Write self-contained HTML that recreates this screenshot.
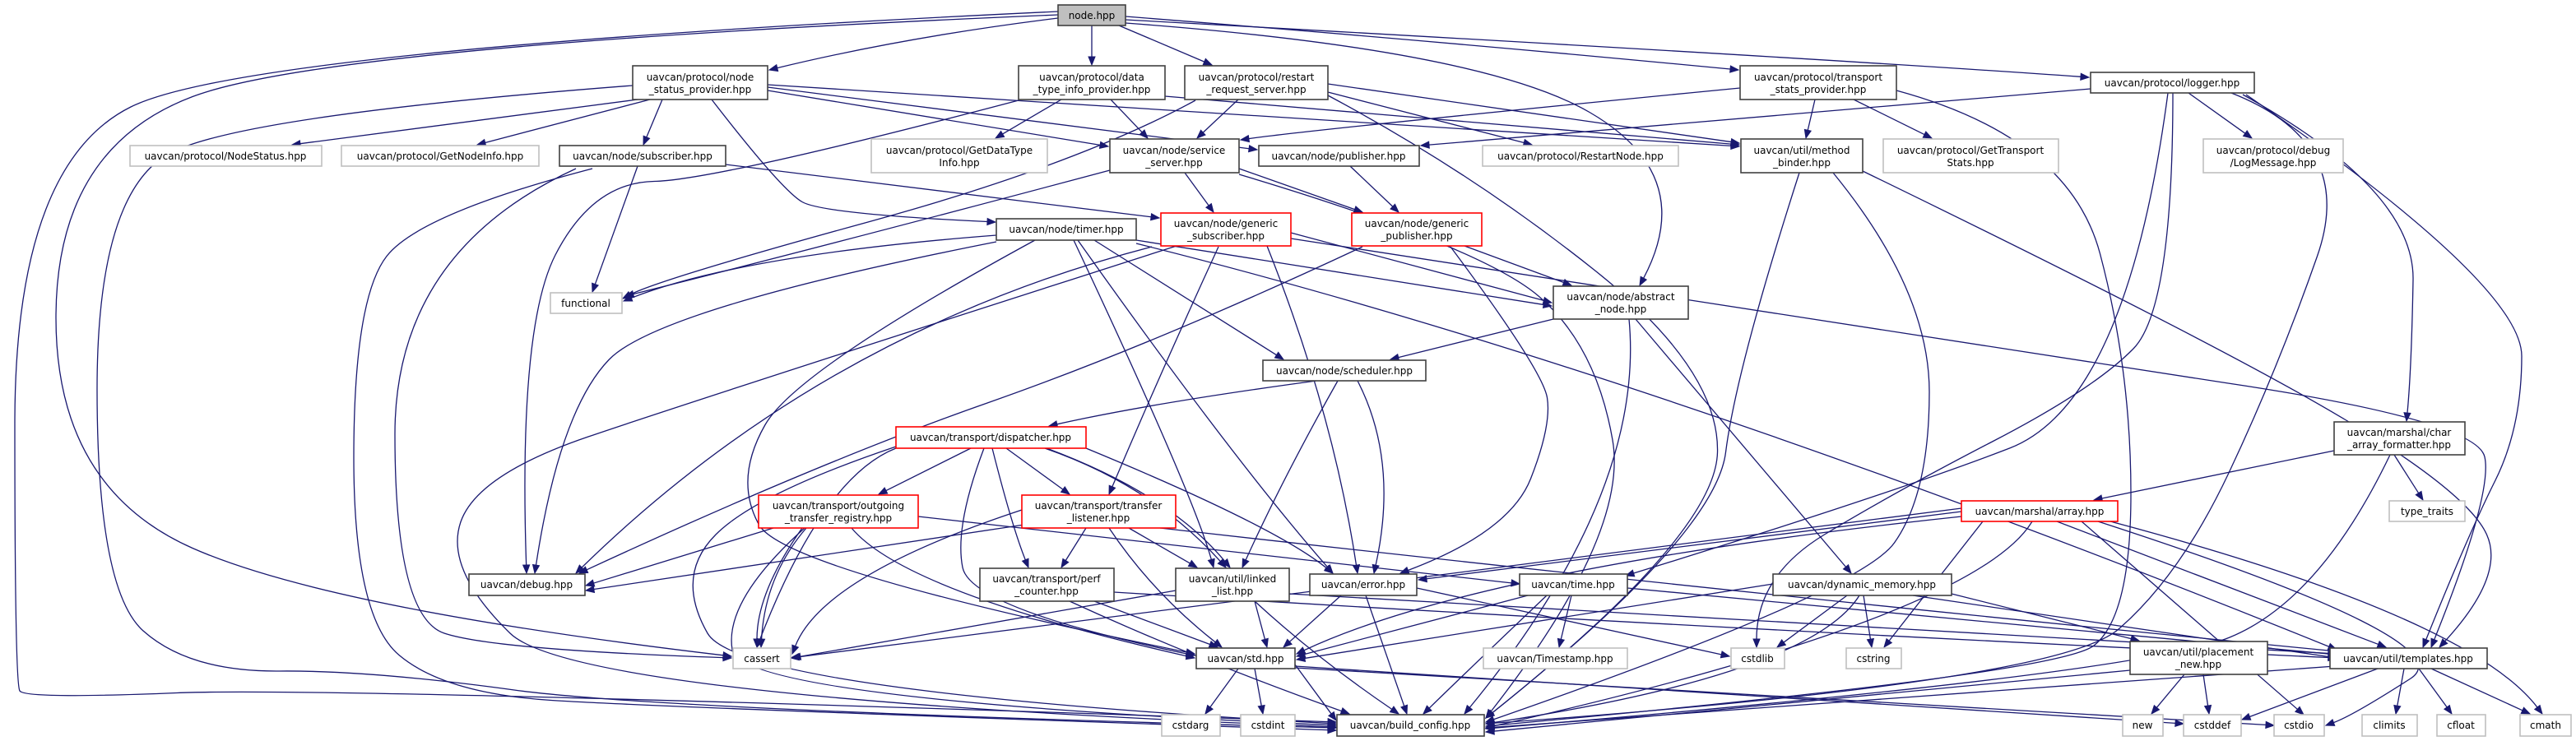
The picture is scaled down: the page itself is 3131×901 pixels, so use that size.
<!DOCTYPE html>
<html><head><meta charset="utf-8">
<style>
html,body{margin:0;padding:0;background:#fff;}
svg{display:block;}
text{font-family:"DejaVu Sans","Liberation Sans",sans-serif;font-size:12px;fill:#000;}
</style></head>
<body>
<svg id="g" xmlns="http://www.w3.org/2000/svg" width="3131" height="901" viewBox="0 0 3131 901">
<rect width="3131" height="901" fill="#fff"/>
<g id="edges" fill="none" stroke="#191970" stroke-width="1.3"></g>
<g id="heads" fill="#191970" stroke="#191970"></g>
<g id="nodes" stroke-width="1.6">
<rect x="1286" y="6" width="82" height="25" fill="#bfbfbf" stroke="#404040"/>
<rect x="769" y="80" width="164" height="41" fill="#fff" stroke="#404040"/>
<rect x="1238" y="80" width="178" height="41" fill="#fff" stroke="#404040"/>
<rect x="1440" y="80" width="174" height="41" fill="#fff" stroke="#404040"/>
<rect x="2115" y="80" width="190" height="41" fill="#fff" stroke="#404040"/>
<rect x="2541" y="88" width="199" height="25" fill="#fff" stroke="#404040"/>
<rect x="680" y="177" width="202" height="25" fill="#fff" stroke="#404040"/>
<rect x="1349" y="169" width="157" height="41" fill="#fff" stroke="#404040"/>
<rect x="1530" y="177" width="195" height="25" fill="#fff" stroke="#404040"/>
<rect x="2116" y="169" width="148" height="41" fill="#fff" stroke="#404040"/>
<rect x="1211" y="266" width="170" height="26" fill="#fff" stroke="#404040"/>
<rect x="1888" y="348" width="164" height="40" fill="#fff" stroke="#404040"/>
<rect x="1535" y="438" width="198" height="25" fill="#fff" stroke="#404040"/>
<rect x="2837" y="513" width="159" height="40" fill="#fff" stroke="#404040"/>
<rect x="570" y="698" width="141" height="26" fill="#fff" stroke="#404040"/>
<rect x="1191" y="691" width="163" height="40" fill="#fff" stroke="#404040"/>
<rect x="1429" y="691" width="138" height="40" fill="#fff" stroke="#404040"/>
<rect x="1592" y="698" width="130" height="26" fill="#fff" stroke="#404040"/>
<rect x="1847" y="698" width="131" height="26" fill="#fff" stroke="#404040"/>
<rect x="2155" y="698" width="217" height="26" fill="#fff" stroke="#404040"/>
<rect x="2589" y="780" width="167" height="40" fill="#fff" stroke="#404040"/>
<rect x="2832" y="788" width="191" height="25" fill="#fff" stroke="#404040"/>
<rect x="1454" y="788" width="120" height="25" fill="#fff" stroke="#404040"/>
<rect x="1625" y="869" width="179" height="26" fill="#fff" stroke="#404040"/>
<rect x="1411" y="259" width="158" height="40" fill="#fff" stroke="#ff0000"/>
<rect x="1643" y="259" width="158" height="40" fill="#fff" stroke="#ff0000"/>
<rect x="1089" y="519" width="231" height="26" fill="#fff" stroke="#ff0000"/>
<rect x="922" y="602" width="194" height="40" fill="#fff" stroke="#ff0000"/>
<rect x="1242" y="602" width="187" height="40" fill="#fff" stroke="#ff0000"/>
<rect x="2384" y="609" width="190" height="25" fill="#fff" stroke="#ff0000"/>
<g fill="#fff" stroke="#bfbfbf">
<rect x="158" y="177" width="233" height="25"/>
<rect x="415" y="177" width="240" height="25"/>
<rect x="1059" y="169" width="214" height="41"/>
<rect x="1802" y="177" width="238" height="25"/>
<rect x="2289" y="169" width="213" height="41"/>
<rect x="2678" y="169" width="170" height="41"/>
<rect x="669" y="356" width="87" height="25"/>
<rect x="2904" y="609" width="92" height="25"/>
<rect x="891" y="788" width="70" height="25"/>
<rect x="1803" y="788" width="175" height="25"/>
<rect x="2104" y="788" width="65" height="25"/>
<rect x="2244" y="788" width="67" height="25"/>
<rect x="1412" y="869" width="71" height="26"/>
<rect x="1508" y="869" width="66" height="26"/>
<rect x="2580" y="869" width="49" height="26"/>
<rect x="2654" y="869" width="70" height="26"/>
<rect x="2764" y="869" width="61" height="26"/>
<rect x="2871" y="869" width="67" height="26"/>
<rect x="2962" y="869" width="59" height="26"/>
<rect x="3063" y="869" width="62" height="26"/>
</g>
</g>
<g text-anchor="middle">
<text x="1327" y="23">node.hpp</text>
<text x="851" y="98">uavcan/protocol/node</text><text x="851" y="113">_status_provider.hpp</text>
<text x="1327" y="98">uavcan/protocol/data</text><text x="1327" y="113">_type_info_provider.hpp</text>
<text x="1527" y="98">uavcan/protocol/restart</text><text x="1527" y="113">_request_server.hpp</text>
<text x="2210" y="98">uavcan/protocol/transport</text><text x="2210" y="113">_stats_provider.hpp</text>
<text x="2640" y="105">uavcan/protocol/logger.hpp</text>
<text x="274" y="194">uavcan/protocol/NodeStatus.hpp</text>
<text x="535" y="194">uavcan/protocol/GetNodeInfo.hpp</text>
<text x="781" y="194">uavcan/node/subscriber.hpp</text>
<text x="1166" y="187">uavcan/protocol/GetDataType</text><text x="1166" y="202">Info.hpp</text>
<text x="1427" y="187">uavcan/node/service</text><text x="1427" y="202">_server.hpp</text>
<text x="1627" y="194">uavcan/node/publisher.hpp</text>
<text x="1921" y="194">uavcan/protocol/RestartNode.hpp</text>
<text x="2190" y="187">uavcan/util/method</text><text x="2190" y="202">_binder.hpp</text>
<text x="2395" y="187">uavcan/protocol/GetTransport</text><text x="2395" y="202">Stats.hpp</text>
<text x="2763" y="187">uavcan/protocol/debug</text><text x="2763" y="202">/LogMessage.hpp</text>
<text x="712" y="373">functional</text>
<text x="1296" y="283">uavcan/node/timer.hpp</text>
<text x="1490" y="276">uavcan/node/generic</text><text x="1490" y="291">_subscriber.hpp</text>
<text x="1722" y="276">uavcan/node/generic</text><text x="1722" y="291">_publisher.hpp</text>
<text x="1970" y="365">uavcan/node/abstract</text><text x="1970" y="380">_node.hpp</text>
<text x="1634" y="455">uavcan/node/scheduler.hpp</text>
<text x="1204" y="536">uavcan/transport/dispatcher.hpp</text>
<text x="2916" y="530">uavcan/marshal/char</text><text x="2916" y="545">_array_formatter.hpp</text>
<text x="1019" y="619">uavcan/transport/outgoing</text><text x="1019" y="634">_transfer_registry.hpp</text>
<text x="1335" y="619">uavcan/transport/transfer</text><text x="1335" y="634">_listener.hpp</text>
<text x="2479" y="626">uavcan/marshal/array.hpp</text>
<text x="2950" y="626">type_traits</text>
<text x="640" y="715">uavcan/debug.hpp</text>
<text x="1272" y="708">uavcan/transport/perf</text><text x="1272" y="723">_counter.hpp</text>
<text x="1498" y="708">uavcan/util/linked</text><text x="1498" y="723">_list.hpp</text>
<text x="1657" y="715">uavcan/error.hpp</text>
<text x="1912" y="715">uavcan/time.hpp</text>
<text x="2263" y="715">uavcan/dynamic_memory.hpp</text>
<text x="2672" y="797">uavcan/util/placement</text><text x="2672" y="812">_new.hpp</text>
<text x="2927" y="805">uavcan/util/templates.hpp</text>
<text x="926" y="805">cassert</text>
<text x="1514" y="805">uavcan/std.hpp</text>
<text x="1890" y="805">uavcan/Timestamp.hpp</text>
<text x="2136" y="805">cstdlib</text>
<text x="2277" y="805">cstring</text>
<text x="1714" y="886">uavcan/build_config.hpp</text>
<text x="1447" y="886">cstdarg</text>
<text x="1541" y="886">cstdint</text>
<text x="2604" y="886">new</text>
<text x="2689" y="886">cstddef</text>
<text x="2794" y="886">cstdio</text>
<text x="2904" y="886">climits</text>
<text x="2991" y="886">cfloat</text>
<text x="3094" y="886">cmath</text>
</g>
</svg>
<script>
var E=[
[1286,22,1100,45,935,85],[1327,31,1327,79],[1360,31,1473,79],[1368,20,1750,50,2113,85],
[1368,24,2200,70,2539,94],[1368,28,1800,60,2064,213,1993,347],
[1286,14,300,60,18,200,18,830,30,850,400,835,1624,878],
[1286,18,400,55,68,180,68,593,400,740,889,798],
[769,104,300,140,118,230,118,717,230,817,450,815,800,863,1624,885],
[775,121,355,176],[790,121,580,176],[805,121,782,176],
[865,121,950,231,1000,260,1210,270],[933,110,1347,178],[933,106,1528,182],[933,103,2114,178],
[1290,121,1210,168],[1350,121,1395,168],[1238,122,870,219,720,222,630,398,640,697],[1416,117,2114,176],
[1505,121,1455,168],[1614,112,1862,176],[1614,102,2114,174],[1453,122,1310,200,800,340,757,363],
[1614,116,1790,210,2090,450,2085,650,1806,873],
[2115,107,1600,157,1508,170],[2206,121,2195,168],[2253,121,2348,168],
[2305,110,2515,167,2590,450,2590,750,2500,820,1806,883],
[2541,108,1727,177],[2660,113,2737,168],[2635,113,2585,490,2300,600,1976,700],
[2641,113,2641,375,2545,473,2300,600,2135,700,2135,787],
[2712,113,2865,173,2768,450,2650,700,2500,830,1806,880],[2726,115,2935,231,2931,450,2925,512],
[2730,115,3065,346,3065,520,3000,650,2945,787],
[775,202,720,355],[720,205,510,260,430,363,430,750,540,843,800,860,1624,888],
[700,205,480,306,480,750,600,790,889,800],[882,200,1409,265],
[1430,299,850,485,580,577,540,692,700,848,1624,884],
[1481,300,1412,450,1348,601],[1569,283,1886,368],[1540,299,1620,500,1650,697],
[1400,300,1000,404,700,697],[1569,290,2400,420,3010,511,3030,600,2955,787],
[1780,299,1910,347],[1763,300,1875,450,1886,517,1835,647,1702,697],[1656,300,1400,420,1000,560,704,697],
[1440,210,1475,258],[1349,207,1000,300,760,360],[1506,205,1656,258],[1506,212,1800,300,1940,420,1980,650,1806,873],
[1641,202,1700,258],
[1211,286,900,310,758,366],[1211,294,800,375,680,500,650,697],[1381,292,1886,372],[1330,292,1560,437],
[1258,292,968,450,892,583,953,693,1452,795],[1305,292,1450,600,1475,690],[1310,292,1500,560,1620,697],
[1381,296,2000,450,2840,790],
[1888,388,1690,437],[1980,388,2000,600,1780,868],[1988,388,2100,520,2250,697],
[1600,463,1400,490,1275,518],[1626,463,1560,580,1510,690],[1650,463,1700,560,1670,697],
[1180,545,1068,601],[1223,545,1300,601],[1206,545,1230,640,1250,690],[1270,545,1400,590,1490,690],
[1272,545,1420,600,1495,690],[1320,545,1550,640,1620,697],[1196,545,1160,640,1180,740,1452,797],
[1089,545,1000,580,920,787],[1089,543,920,600,820,700,900,840,1624,880],
[940,642,712,712],[980,642,930,700,925,787],[975,642,920,720,920,787],[1035,642,1100,720,1452,800],
[1116,628,1847,710],[978,642,880,730,900,850,1624,882],
[1242,620,1000,700,963,795],[1245,638,712,718],[1320,642,1290,690],[1372,642,1455,690],[1348,642,1400,720,1485,787],
[1410,642,2100,720,2840,792],
[1330,731,1480,787],[1300,731,1450,800,1640,868],[1354,720,2000,760,2840,800],
[1429,718,963,800],[1525,731,1540,787],[1525,731,1600,800,1700,868],[1567,722,2840,795],
[1630,724,1560,787],[1660,724,1710,868],[1722,715,2102,798],
[1857,724,1576,798],[1910,724,1895,787],[1880,724,1800,800,1730,868],[1978,715,2840,796],
[2245,724,2160,787],[2265,724,2275,787],[2155,710,1576,802],[2260,724,2200,820,1806,880],
[2325,724,2840,800],[2372,722,2600,779],
[1505,813,1465,868],[1525,813,1535,868],[1574,808,1624,876],[1574,810,2654,880],[1574,812,2764,882],
[2384,622,1724,705],[2384,628,1800,690,1576,795],[2384,618,961,800],[2410,634,2290,787],
[2470,634,2400,750,1806,885],[2500,634,2900,787],[2565,634,3000,750,3090,868],[2530,634,2800,869],
[2550,634,3000,780,2860,870,2827,882],
[2837,548,2545,608],[2910,553,2945,608],[2905,553,2820,730,2600,820,1806,886],
[2655,820,2615,868],[2678,820,2685,868],[2589,815,1806,890],
[2890,813,2725,875],[2922,813,2912,868],[2940,813,2980,868],[2955,813,3075,868],[2838,810,1806,885],
[2228,210,2345,353,2345,600,2260,720,1806,878],[2187,210,2110,450,2085,650,1806,873],
[2264,208,2700,420,3000,600,3045,700,2965,787]
];
var NS="http://www.w3.org/2000/svg",ge=document.getElementById("edges"),gh=document.getElementById("heads");
E.forEach(function(a){
 var p=[];for(var i=0;i<a.length;i+=2)p.push([a[i],a[i+1]]);
 var n=p.length,e=p[n-1],q=p[n-2],dx=e[0]-q[0],dy=e[1]-q[1],L=Math.sqrt(dx*dx+dy*dy)||1;dx/=L;dy/=L;
 var b=[e[0]-dx*10,e[1]-dy*10];
 var d="M"+p[0][0]+","+p[0][1];
 if(n==2){d+=" L"+b[0]+","+b[1];}
 else{
  for(var i=1;i<n-2;i++){var m=[(p[i][0]+p[i+1][0])/2,(p[i][1]+p[i+1][1])/2];d+=" Q"+p[i][0]+","+p[i][1]+" "+m[0]+","+m[1];}
  d+=" Q"+p[n-2][0]+","+p[n-2][1]+" "+b[0]+","+b[1];
 }
 var pa=document.createElementNS(NS,"path");pa.setAttribute("d",d);ge.appendChild(pa);
 var px=-dy*4,py=dx*4;
 var h=document.createElementNS(NS,"polygon");
 h.setAttribute("points",e[0]+","+e[1]+" "+(b[0]+px)+","+(b[1]+py)+" "+(b[0]-px)+","+(b[1]-py));
 gh.appendChild(h);
});
</script>
</body></html>
